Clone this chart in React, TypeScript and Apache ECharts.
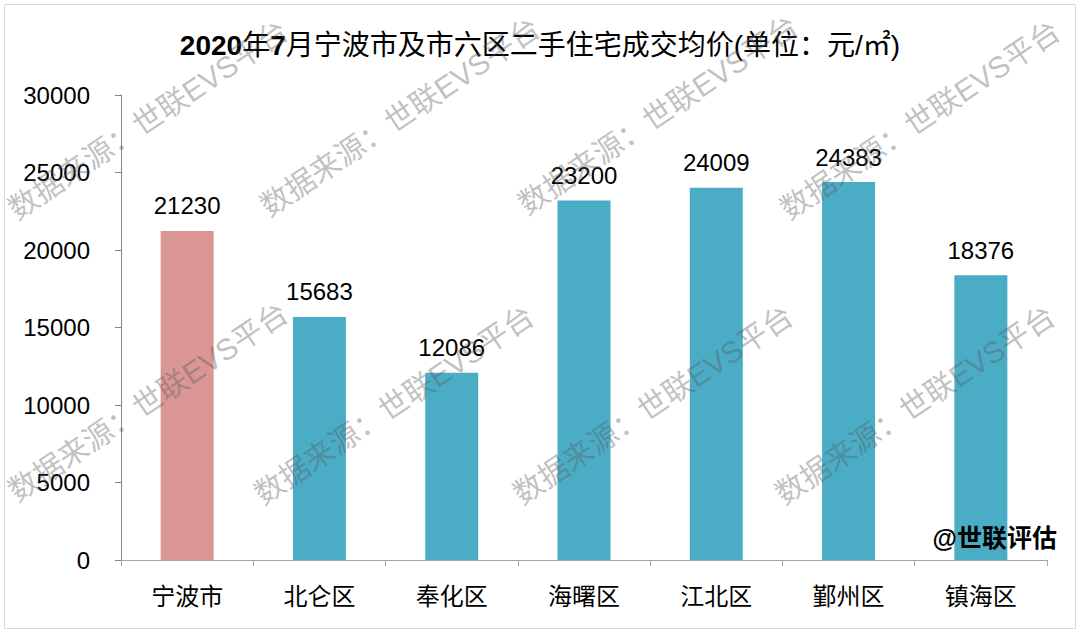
import React, { useEffect, useRef } from "react";
import * as echarts from "echarts";

const categories = ["宁波市", "北仑区", "奉化区", "海曙区", "江北区", "鄞州区", "镇海区"];
const values = [21230, 15683, 12086, 23200, 24009, 24383, 18376];
const barColors = ["#D99694", "#4BACC6", "#4BACC6", "#4BACC6", "#4BACC6", "#4BACC6", "#4BACC6"];
const yTicks = { min: 0, max: 30000, interval: 5000 };
const titleText = "{b|2020}年{b|7}月宁波市及市六区二手住宅成交均价(单位：元/㎡)";
const watermarkText = "数据来源：世联EVS平台";
const watermarkCenters: [number, number][] = [
  [148, 120], [400, 117], [658, 115], [920, 120],
  [148, 402], [394, 405], [653, 405], [915, 405],
];
const brandText = "@世联评估";

const FONT = "'Liberation Sans', Arial, 'Noto Sans CJK SC', sans-serif";

export default function App() {
  const ref = useRef<HTMLDivElement>(null);
  useEffect(() => {
    if (!ref.current) return;
    const chart = echarts.init(ref.current, null, { renderer: "svg" });
    const rot = (34 * Math.PI) / 180;
    const graphics: any[] = [
      {
        type: "rect",
        silent: true,
        z: -10,
        shape: { x: 4.5, y: 4.5, width: 1071, height: 624 },
        style: { fill: "none", stroke: "#d9d9d9", lineWidth: 1 },
      },
      {
        type: "text",
        x: 1057,
        y: 538,
        z: 50,
        style: {
          text: brandText,
          fill: "#000",
          font: `bold 25px ${FONT}`,
          textAlign: "right",
          textVerticalAlign: "middle",
        },
      },
    ];
    watermarkCenters.forEach(([x, y]) => {
      graphics.push({
        type: "text",
        x,
        y,
        rotation: rot,
        z: 100,
        silent: true,
        style: {
          text: watermarkText,
          fill: "rgba(90,90,90,0.38)",
          font: `30px ${FONT}`,
          textAlign: "center",
          textVerticalAlign: "middle",
        },
      });
    });
    chart.setOption({
      animation: false,
      backgroundColor: "#fff",
      title: {
        text: titleText,
        left: "center",
        top: 26,
        textStyle: {
          fontFamily: FONT,
          fontSize: 28,
          fontWeight: "normal",
          color: "#000",
          rich: {
            b: { fontFamily: FONT, fontSize: 28, fontWeight: "bold", color: "#000" },
          },
        },
      },
      grid: { left: 121, right: 33, top: 95, bottom: 74, containLabel: false },
      xAxis: {
        type: "category",
        data: categories,
        axisLine: { lineStyle: { color: "#a6a6a6", width: 1 } },
        axisTick: { show: true, length: 6, lineStyle: { color: "#a6a6a6" } },
        axisLabel: { color: "#000", fontSize: 24, fontFamily: FONT, margin: 24 },
      },
      yAxis: {
        type: "value",
        min: yTicks.min,
        max: yTicks.max,
        interval: yTicks.interval,
        axisLine: { show: true, lineStyle: { color: "#868686", width: 1 } },
        axisTick: { show: true, length: 6, lineStyle: { color: "#868686" } },
        splitLine: { show: false },
        axisLabel: {
          color: "#000",
          fontSize: 24,
          fontFamily: FONT,
          margin: 31,
          formatter: (v: number) => String(v),
        },
      },
      series: [
        {
          type: "bar",
          barWidth: 53,
          data: values.map((v, i) => ({ value: v, itemStyle: { color: barColors[i] } })),
          label: {
            show: true,
            position: "top",
            distance: 13,
            color: "#000",
            fontSize: 24,
            fontFamily: FONT,
          },
        },
      ],
      graphic: graphics,
    });
    return () => chart.dispose();
  }, []);
  return (
    <div
      ref={ref}
      style={{ position: "fixed", left: 0, top: 0, width: 1080, height: 634, background: "#fff" }}
    />
  );
}
